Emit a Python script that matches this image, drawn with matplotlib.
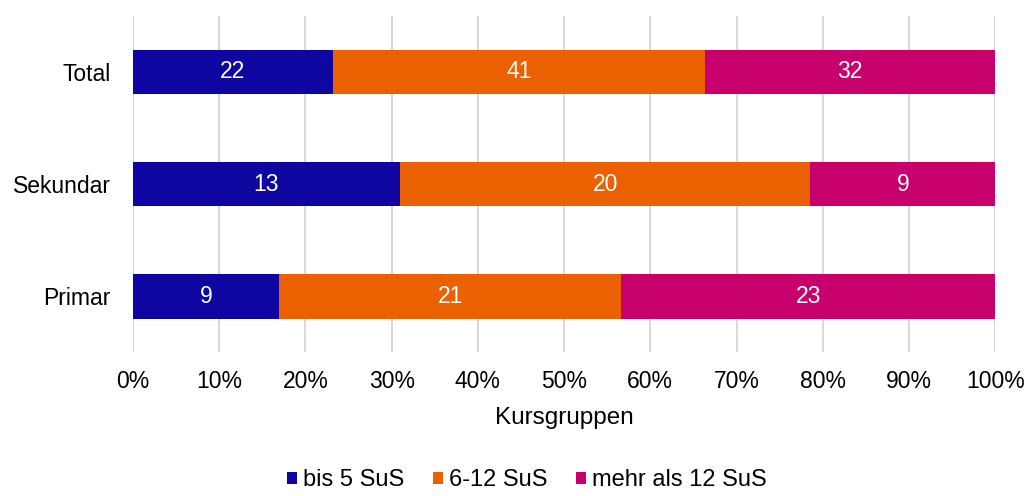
import numpy as np
import matplotlib.pyplot as plt

plt.rcParams['font.family'] = ['Liberation Sans', 'DejaVu Sans']

categories = ['Primar', 'Sekundar', 'Total']
bis5 = [9, 13, 22]
sus6_12 = [21, 20, 41]
mehr12 = [23, 9, 32]
series_names = ['bis 5 SuS', '6-12 SuS', 'mehr als 12 SuS']
colors = ['#0f05a0', '#eb6000', '#c8006e']
xticks = [0, 10, 20, 30, 40, 50, 60, 70, 80, 90, 100]

data = np.array([bis5, sus6_12, mehr12], dtype=float)
totals = data.sum(axis=0)
shares = data / totals * 100

fig = plt.figure(figsize=(10.27, 4.96), dpi=100)
ax = fig.add_axes([0.1295, 0.290, 0.8395, 0.678])

y = np.arange(len(categories))
left = np.zeros(len(categories))
handles = []
for i in range(len(series_names)):
    bars = ax.barh(y, shares[i], left=left, height=0.4, color=colors[i],
                   label=series_names[i], zorder=3)
    handles.append(bars)
    for j in range(len(categories)):
        ax.text(left[j] + shares[i][j] / 2, y[j], '%d' % data[i][j],
                ha='center', va='center', color='white', fontsize=16.5, zorder=4)
    left += shares[i]

ax.set_xlim(0, 100)
ax.set_ylim(-0.5, 2.5)
ax.set_xticks(xticks)
ax.set_xticklabels(['%d%%' % t for t in xticks])
ax.set_yticks(y)
ax.set_yticklabels(categories)
ax.tick_params(axis='both', length=0, labelsize=16.5, colors='#000000')
ax.tick_params(axis='x', pad=13)
ax.tick_params(axis='y', pad=16)
ax.grid(axis='x', color='#d9d9d9', linewidth=1.5, zorder=0)
for s in ax.spines.values():
    s.set_visible(False)
ax.set_xlabel('Kursgruppen', fontsize=17.5, labelpad=10)

fig.legend(handles=handles, labels=series_names, loc='center',
           bbox_to_anchor=(0.513, 0.032), ncol=3, frameon=False, fontsize=17,
           handlelength=0.43, handleheight=0.43, handletextpad=0.25,
           columnspacing=1.2, borderpad=0.1)

fig.savefig('out.png', dpi=100)
